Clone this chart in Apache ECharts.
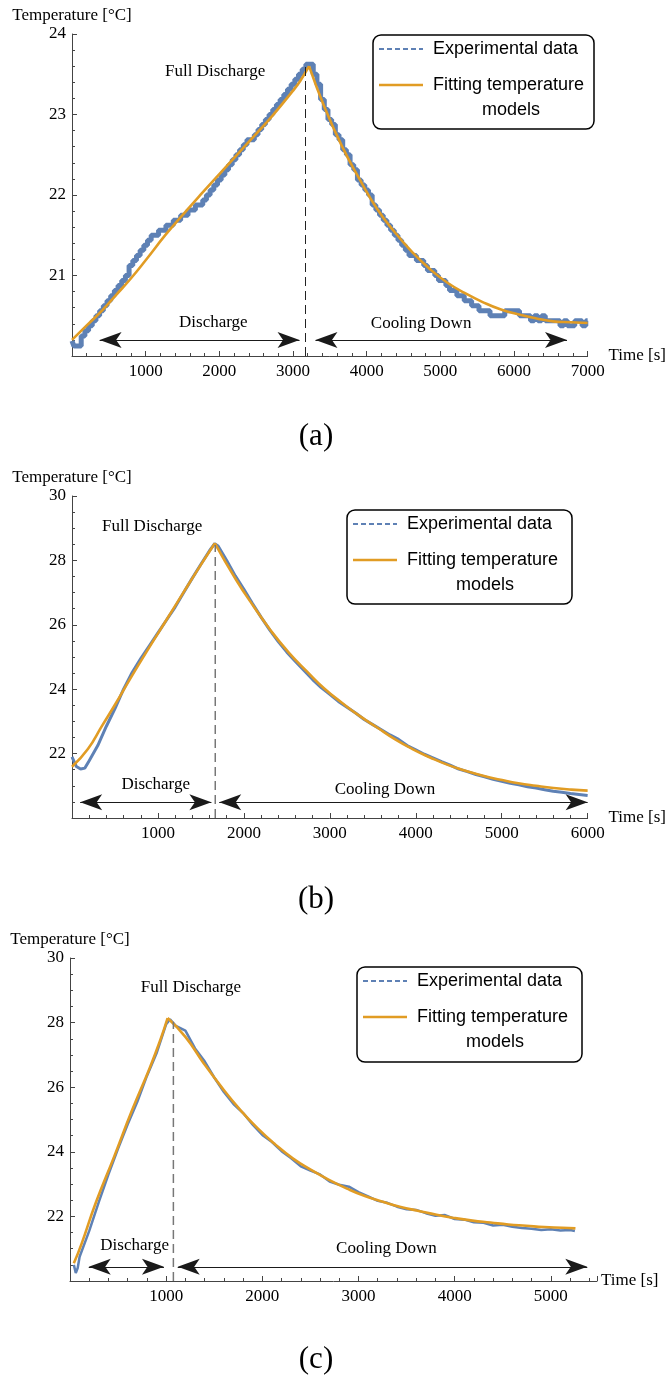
<!DOCTYPE html>
<html>
<head>
<meta charset="utf-8">
<title>Temperature during discharge and cooling</title>
<script src="https://cdn.jsdelivr.net/npm/echarts@6/dist/echarts.min.js"></script>
<style>
  html, body { margin: 0; padding: 0; background: #fff; }
  #main { width: 667px; height: 1376px; }
</style>
</head>
<body>
<div id="main"></div>
<script>
// ---- data (time [s], temperature [°C]) ----

// (a)  sensor readings are quantised in 1/16 °C steps
const expA = [[0,20.1875],[50,20.125],[100,20.125],[150,20.25],[200,20.3125],[250,20.375],[300,20.4375],[350,20.5],[400,20.5625],[450,20.625],
  [500,20.6875],[550,20.75],[600,20.8125],[650,20.875],[700,20.9375],[750,21.0],[800,21.125],[850,21.1875],[900,21.25],[950,21.3125],
  [1000,21.375],[1050,21.4375],[1100,21.5],[1150,21.5],[1200,21.5625],[1250,21.5625],[1300,21.625],[1350,21.625],[1400,21.6875],[1450,21.6875],
  [1500,21.75],[1550,21.75],[1600,21.8125],[1650,21.8125],[1700,21.875],[1750,21.875],[1800,21.9375],[1850,22.0],[1900,22.0625],[1950,22.125],
  [2000,22.1875],[2050,22.25],[2100,22.3125],[2150,22.375],[2200,22.4375],[2250,22.5],[2300,22.5625],[2350,22.625],[2400,22.6875],[2450,22.6875],
  [2500,22.75],[2550,22.8125],[2600,22.875],[2650,22.9375],[2700,23.0],[2750,23.0625],[2800,23.125],[2850,23.1875],[2900,23.25],[2950,23.3125],
  [3000,23.375],[3050,23.4375],[3100,23.5],[3150,23.5625],[3200,23.625],[3250,23.625],[3300,23.5],[3350,23.375],[3400,23.1875],[3450,23.0625],
  [3500,22.9375],[3550,22.875],[3600,22.75],[3650,22.6875],[3700,22.5625],[3750,22.5],[3800,22.375],[3850,22.3125],[3900,22.1875],[3950,22.125],
  [4000,22.0625],[4050,22.0],[4100,21.875],[4150,21.8125],[4200,21.75],[4250,21.6875],[4300,21.625],[4350,21.5625],[4400,21.5],[4450,21.4375],
  [4500,21.375],[4550,21.3125],[4600,21.25],[4650,21.25],[4700,21.1875],[4750,21.1875],[4800,21.125],[4850,21.0625],[4900,21.0625],[4950,21.0],
  [5000,20.9375],[5050,20.9375],[5100,20.875],[5150,20.8125],[5200,20.8125],[5250,20.75],[5300,20.75],[5350,20.6875],[5400,20.6875],[5450,20.625],
  [5500,20.625],[5550,20.5625],[5600,20.5625],[5650,20.5625],[5700,20.5],[5750,20.5],[5800,20.5],[5850,20.5],[5900,20.5625],[5950,20.5625],
  [6000,20.5625],[6050,20.5625],[6100,20.5],[6150,20.5],[6200,20.5],[6250,20.4375],[6300,20.5],[6350,20.4375],[6400,20.5],[6450,20.4375],
  [6500,20.4375],[6550,20.4375],[6600,20.4375],[6650,20.375],[6700,20.4375],[6750,20.375],[6800,20.375],[6850,20.4375],[6900,20.4375],[6950,20.375],
  [7000,20.4375]];
const fitRiseA = [[0,20.20],[200,20.38],[414,20.57],[600,20.76],[796,20.96],[1000,21.19],[1274,21.51],[1500,21.75],[1752,22.01],
  [2000,22.26],[2230,22.49],[2500,22.76],[2708,22.97],[2995,23.29],[3100,23.42],[3218,23.60]];
const fitCoolA = [[3218,23.60],[3424,23.10],[3663,22.61],[3902,22.20],[4141,21.83],[4380,21.54],[4619,21.29],[4858,21.08],[5097,20.91],
  [5336,20.78],[5575,20.67],[5814,20.58],[6053,20.52],[6292,20.47],[6531,20.43],[6770,20.42],[7000,20.41]];

// (b)
const expB = [[0,21.90],[50,21.60],[100,21.52],[150,21.55],[200,21.78],[300,22.25],[400,22.85],[500,23.40],[600,24.00],[700,24.52],
  [800,24.95],[900,25.35],[1000,25.75],[1100,26.15],[1200,26.55],[1300,27.00],[1400,27.45],[1500,27.88],[1600,28.30],[1660,28.52],
  [1700,28.45],[1800,28.00],[1900,27.52],[2000,27.10],[2100,26.66],[2200,26.24],[2300,25.84],[2400,25.48],[2500,25.15],[2600,24.86],
  [2700,24.58],[2800,24.30],[2900,24.05],[3000,23.84],[3100,23.62],[3200,23.44],[3300,23.26],[3400,23.06],[3500,22.90],[3600,22.74],
  [3700,22.58],[3800,22.44],[3900,22.25],[4000,22.12],[4100,21.98],[4200,21.87],[4300,21.75],[4400,21.64],[4500,21.52],[4600,21.44],
  [4700,21.35],[4800,21.28],[4900,21.20],[5000,21.14],[5100,21.08],[5200,21.03],[5300,20.97],[5400,20.93],[5500,20.88],[5600,20.83],
  [5700,20.80],[5800,20.76],[5900,20.73],[6000,20.70]];
const fitRiseB = [[0,21.59],[185,22.14],[349,22.86],[514,23.58],[678,24.33],[883,25.23],[1089,26.11],[1294,26.99],[1499,27.86],[1663,28.53]];
const fitCoolB = [[1663,28.53],[1909,27.40],[2114,26.57],[2319,25.80],[2525,25.13],[2730,24.56],[2935,24.02],[3140,23.58],[3346,23.17],
  [3551,22.81],[3756,22.45],[3962,22.14],[4167,21.88],[4372,21.65],[4578,21.47],[4783,21.31],[4988,21.19],[5194,21.08],[5399,21.00],
  [5604,20.93],[5809,20.88],[6000,20.85]];

// (c)
const expC = [[40,20.50],[60,20.25],[80,20.40],[100,20.75],[200,21.55],[300,22.45],[400,23.30],[500,24.10],[600,24.85],[700,25.55],
  [800,26.35],[900,27.05],[1000,27.95],[1040,28.10],[1100,27.90],[1200,27.75],[1300,27.20],[1400,26.80],[1500,26.30],[1600,25.85],
  [1700,25.48],[1800,25.20],[1900,24.84],[2000,24.52],[2100,24.30],[2200,24.02],[2300,23.80],[2400,23.55],[2500,23.42],[2600,23.30],
  [2700,23.08],[2800,22.98],[2900,22.92],[3000,22.75],[3100,22.62],[3200,22.48],[3300,22.42],[3400,22.30],[3500,22.22],[3600,22.20],
  [3700,22.10],[3800,22.02],[3900,22.04],[4000,21.92],[4100,21.90],[4200,21.82],[4300,21.80],[4400,21.72],[4500,21.74],[4600,21.68],
  [4700,21.64],[4800,21.62],[4900,21.58],[5000,21.60],[5100,21.56],[5200,21.58],[5250,21.55]];
const fitRiseC = [[40,20.55],[120,21.15],[269,22.43],[455,23.82],[642,25.26],[828,26.59],[940,27.47],[1015,28.14]];
const fitCoolC = [[1015,28.14],[1202,27.55],[1388,26.75],[1574,26.01],[1761,25.33],[1947,24.74],[2134,24.23],[2320,23.79],[2507,23.44],
  [2693,23.13],[2880,22.86],[3066,22.63],[3253,22.45],[3439,22.29],[3626,22.17],[3812,22.05],[3999,21.95],[4185,21.87],[4372,21.81],
  [4558,21.75],[4745,21.71],[4932,21.67],[5118,21.65],[5256,21.63]];

// axes
const xMax = [7000, 6000, 5480];
const yMin = [20, 20, 20];
const yMax = [24, 30, 30];
const yStep = [1, 2, 2];
const yMinorSplit = [5, 4, 4];

// annotations (arrow spans are tip to tip)
const dischargeEnd = [3170, 1667, 1075];
const dischargeTop = [23.60, 28.48, 28.03];
const dischargeSpan = [[375, 3089], [95, 1622], [195, 977]];
const coolingSpan = [[3305, 6720], [1713, 6000], [1120, 5379]];
const arrowLevel = [20.20, 20.49, 20.44];
const fullLabelAt = [[1943, 23.53], [932, 29.05], [1257, 29.10]];
const dischargeLabelAt = [[1919, 20.41], [974, 21.05], [672, 21.11]];
const coolingLabelAt = [[4739, 20.40], [3643, 20.87], [3290, 20.99]];

const expSets = [expA, expB, expC];
const riseSets = [fitRiseA, fitRiseB, fitRiseC];
const coolSets = [fitCoolA, fitCoolB, fitCoolC];
const captions = ['(a)', '(b)', '(c)'];

// ---- layout ----
const BLUE = '#5E81B5';
const ORANGE = '#E19C24';
const SERIF = '"Liberation Serif", "Times New Roman", serif';
const SANS = '"Liberation Sans", Arial, sans-serif';

const grids = [
  { left: 72, top: 34, width: 525, height: 322 },
  { left: 72, top: 496, width: 524, height: 322 },
  { left: 70, top: 958, width: 527, height: 323 }
];
const legendBoxes = [
  { x: 373, y: 35, w: 221, h: 94 },
  { x: 347, y: 510, w: 225, h: 94 },
  { x: 357, y: 967, w: 225, h: 95 }
];
const captionY = [437, 900, 1360];
const expWidth = [5, 3, 2.5];
const dashColor = ['#222', '#777', '#777'];

var myChart = echarts.init(document.getElementById('main'));

var xAxes = [], yAxes = [], series = [], graphics = [];

grids.forEach(function (g, i) {
  xAxes.push({
    gridIndex: i, type: 'value', min: 0, max: xMax[i], interval: 1000,
    name: 'Time [s]', nameLocation: 'end', nameGap: 4,
    nameTextStyle: { fontFamily: SERIF, fontSize: 17, color: '#000', verticalAlign: 'middle' },
    axisLine: { onZero: false, lineStyle: { color: '#444', width: 1 } },
    axisTick: { inside: true, length: 5, lineStyle: { color: '#444' } },
    minorTick: { show: true, splitNumber: 5, length: 3, lineStyle: { color: '#444' } },
    axisLabel: { fontFamily: SERIF, fontSize: 17, color: '#000', margin: 7, showMinLabel: false,
      showMaxLabel: i < 2, formatter: function (v) { return String(v); } },
    splitLine: { show: false }
  });
  yAxes.push({
    gridIndex: i, type: 'value', min: yMin[i], max: yMax[i], interval: yStep[i],
    name: 'Temperature [°C]', nameLocation: 'end', nameGap: 10,
    nameTextStyle: { fontFamily: SERIF, fontSize: 17, color: '#000' },
    axisLine: { show: true, onZero: false, lineStyle: { color: '#444', width: 1 } },
    axisTick: { show: true, inside: true, length: 5, lineStyle: { color: '#444' } },
    minorTick: { show: true, splitNumber: yMinorSplit[i], length: 3, lineStyle: { color: '#444' } },
    axisLabel: { fontFamily: SERIF, fontSize: 17, color: '#000', margin: 6, showMinLabel: false,
      formatter: function (v) { return String(v); } },
    splitLine: { show: false }
  });

  series.push({
    name: 'Experimental data', type: 'line', xAxisIndex: i, yAxisIndex: i,
    data: expSets[i], showSymbol: false, symbol: 'none', silent: true,
    step: i === 0 ? 'middle' : false,
    lineStyle: { color: BLUE, width: expWidth[i] }, z: 2
  });
  [riseSets[i], coolSets[i]].forEach(function (d) {
    series.push({
      name: 'Fitting temperature models', type: 'line', xAxisIndex: i, yAxisIndex: i,
      data: d, smooth: true, showSymbol: false, symbol: 'none', silent: true,
      lineStyle: { color: ORANGE, width: 2.6 }, z: 3
    });
  });

  // dashed "end of discharge" line plus arrows and texts
  series.push({
    type: 'line', xAxisIndex: i, yAxisIndex: i, silent: true, symbol: 'none', z: 4,
    data: [[dischargeEnd[i], yMin[i]], [dischargeEnd[i], dischargeTop[i]]],
    lineStyle: { color: dashColor[i], width: i === 0 ? 1 : 1.5, type: [9, 5] },
    markLine: {
      silent: true, animation: false,
      symbol: ['arrow', 'arrow'], symbolSize: [12, 22],
      lineStyle: { color: '#1a1a1a', width: 1.2, type: 'solid' },
      label: { show: false },
      emphasis: { disabled: true },
      data: [
        [{ coord: [dischargeSpan[i][0], arrowLevel[i]] }, { coord: [dischargeSpan[i][1], arrowLevel[i]] }],
        [{ coord: [coolingSpan[i][0], arrowLevel[i]] }, { coord: [coolingSpan[i][1], arrowLevel[i]] }]
      ]
    },
    markPoint: {
      silent: true, animation: false,
      symbol: 'circle', symbolSize: 1, itemStyle: { color: 'rgba(0,0,0,0)' },
      label: { show: true, position: 'inside', color: '#000', fontFamily: SERIF, fontSize: 17,
        formatter: function (p) { return p.name; } },
      data: [
        { name: 'Full Discharge', coord: fullLabelAt[i] },
        { name: 'Discharge', coord: dischargeLabelAt[i] },
        { name: 'Cooling Down', coord: coolingLabelAt[i] }
      ]
    }
  });

  // legend box
  var b = legendBoxes[i];
  graphics.push({
    type: 'group', z: 100,
    children: [
      { type: 'rect', shape: { x: b.x, y: b.y, width: b.w, height: b.h, r: 8 },
        style: { fill: '#fff', stroke: '#000', lineWidth: 1.5 } },
      { type: 'line', shape: { x1: b.x + 6, y1: b.y + 14, x2: b.x + 50, y2: b.y + 14 },
        style: { stroke: BLUE, lineWidth: 2, lineDash: [5, 3] } },
      { type: 'line', shape: { x1: b.x + 6, y1: b.y + 50, x2: b.x + 50, y2: b.y + 50 },
        style: { stroke: ORANGE, lineWidth: 2.4 } },
      { type: 'text', style: { text: 'Experimental data', x: b.x + 60, y: b.y + 14, font: '18px ' + SANS,
        fill: '#000', textAlign: 'left', textVerticalAlign: 'middle', align: 'left', verticalAlign: 'middle' } },
      { type: 'text', style: { text: 'Fitting temperature', x: b.x + 60, y: b.y + 50, font: '18px ' + SANS,
        fill: '#000', textAlign: 'left', textVerticalAlign: 'middle', align: 'left', verticalAlign: 'middle' } },
      { type: 'text', style: { text: 'models', x: b.x + 138, y: b.y + 75, font: '18px ' + SANS,
        fill: '#000', textAlign: 'center', textVerticalAlign: 'middle', align: 'center', verticalAlign: 'middle' } }
    ]
  });
  graphics.push({
    type: 'text', z: 100,
    style: { text: captions[i], x: 316, y: captionY[i], font: '31px ' + SERIF, fill: '#000',
      textAlign: 'center', textVerticalAlign: 'middle', align: 'center', verticalAlign: 'middle' }
  });
});

var option = {
  animation: false,
  backgroundColor: '#fff',
  grid: grids,
  xAxis: xAxes,
  yAxis: yAxes,
  series: series,
  graphic: graphics
};

myChart.setOption(option);

window.addEventListener('resize', function () {
  myChart.resize();
});
</script>
</body>
</html>
